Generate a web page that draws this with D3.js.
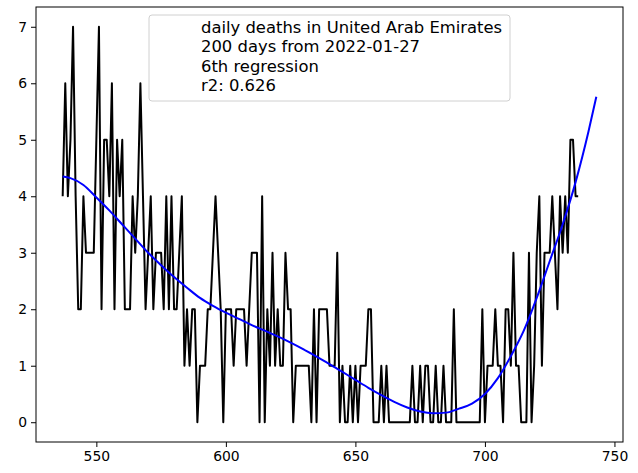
<!DOCTYPE html>
<html>
<head>
<meta charset="utf-8">
<script src="https://cdn.jsdelivr.net/npm/d3@7"></script>
<style>
  body { margin: 0; background: #fff; }
  text { font-family: "DejaVu Sans", sans-serif; }
</style>
</head>
<body>
<svg class="chart" width="638" height="473"></svg>
<script>
// daily deaths, one value per day starting at day 537
var startDay = 537;
var deaths = [
    4, 6, 4, 5, 7, 4, 2, 2, 4, 3,
    3, 3, 3, 5, 7, 2, 5, 5, 4, 6,
    2, 5, 4, 5, 2, 2, 2, 4, 3, 4,
    6, 4, 2, 3, 4, 2, 3, 3, 3, 2,
    4, 2, 4, 2, 2, 3, 4, 1, 2, 1,
    2, 2, 0, 1, 1, 1, 2, 2, 3, 4,
    3, 2, 0, 2, 2, 2, 1, 2, 2, 2,
    2, 1, 2, 3, 3, 3, 0, 4, 0, 2,
    1, 3, 1, 2, 1, 1, 3, 2, 2, 0,
    1, 1, 1, 1, 1, 1, 0, 2, 0, 2,
    2, 2, 2, 1, 1, 1, 3, 0, 1, 0,
    0, 1, 0, 1, 0, 1, 1, 1, 2, 2,
    0, 0, 0, 1, 0, 1, 0, 0, 0, 0,
    0, 0, 0, 0, 0, 1, 0, 0, 1, 0,
    1, 1, 0, 0, 1, 0, 0, 1, 0, 0,
    0, 2, 0, 0, 0, 0, 0, 0, 0, 0,
    0, 0, 2, 0, 1, 1, 1, 2, 1, 1,
    0, 2, 2, 1, 3, 1, 1, 0, 0, 0,
    3, 0, 1, 3, 4, 1, 3, 3, 3, 4,
    3, 2, 4, 3, 4, 3, 5, 5, 4, 4
];

// regression curve
var fitDays = [537, 540, 545, 550, 555, 560, 565, 570, 575, 580, 585, 590, 595, 600,
    605, 610, 615, 620, 625, 630, 635, 640, 645, 650, 655, 660, 665, 670, 675, 680,
    685, 690, 695, 700, 705, 710, 715, 720, 725, 730, 735, 740, 743];
var fitValues = [4.35, 4.32, 4.2, 3.98, 3.75, 3.5, 3.25, 3.0, 2.78, 2.57, 2.38, 2.2, 2.06, 1.94,
    1.83, 1.72, 1.62, 1.52, 1.41, 1.29, 1.16, 1.03, 0.89, 0.75, 0.61, 0.48, 0.36, 0.26, 0.19, 0.16,
    0.17, 0.24, 0.33, 0.5, 0.78, 1.17, 1.62, 2.2, 2.85, 3.5, 4.25, 5.15, 5.76];

var xTicks = [550, 600, 650, 700, 750];
var yTicks = [0, 1, 2, 3, 4, 5, 6, 7];
var legendLines = ["daily deaths in United Arab Emirates", "200 days from 2022-01-27", "6th regression", "r2: 0.626"];

renderChart();

function renderChart() {
    var svg = d3.select(".chart"),
        margin = { top: 7, right: 15, bottom: 31, left: 36 },
        width = +svg.attr("width") - margin.left - margin.right,
        height = +svg.attr("height") - margin.top - margin.bottom;

    var points = deaths.map(function (d, i) {
        return { day: startDay + i, value: d };
    });
    var fit = fitDays.map(function (d, i) {
        return { day: d, value: fitValues[i] };
    });

    // matplotlib style 5% padding
    var xMin = d3.min(fitDays.concat([startDay])),
        xMax = d3.max(fitDays.concat([startDay + deaths.length - 1])),
        xPad = (xMax - xMin) * 0.05;
    var yMax = d3.max(deaths), yPad = yMax * 0.05;

    var x = d3.scaleLinear().domain([xMin - xPad, xMax + xPad]).range([0, width]),
        y = d3.scaleLinear().domain([-yPad, yMax + yPad]).range([height, 0]);

    var g = svg.append("g")
        .attr("transform", "translate(" + margin.left + "," + margin.top + ")");

    var xAxis = g.append("g")
        .attr("transform", "translate(0," + height + ")")
        .call(d3.axisBottom(x).tickValues(xTicks).tickSize(5).tickPadding(4).tickFormat(d3.format("d")));
    var yAxis = g.append("g")
        .call(d3.axisLeft(y).tickValues(yTicks).tickSize(5).tickPadding(4).tickFormat(d3.format("d")));

    [xAxis, yAxis].forEach(function (a) {
        a.select(".domain").remove();
        a.selectAll("line").attr("stroke", "#000").attr("stroke-width", 1);
        a.selectAll("text").attr("fill", "#000").style("font-size", "13.9px");
    });

    var line = d3.line()
        .x(function (d) { return x(d.day); })
        .y(function (d) { return y(d.value); });

    g.append("path")
        .datum(points)
        .attr("fill", "none")
        .attr("stroke", "#000")
        .attr("stroke-width", 2)
        .attr("stroke-linejoin", "round")
        .attr("d", line);

    g.append("path")
        .datum(fit)
        .attr("fill", "none")
        .attr("stroke", "#0000ff")
        .attr("stroke-width", 2)
        .attr("d", line.curve(d3.curveMonotoneX));

    // frame
    g.append("rect")
        .attr("width", width)
        .attr("height", height)
        .attr("fill", "none")
        .attr("stroke", "#000")
        .attr("stroke-width", 1);

    // legend
    var lg = g.append("g").attr("transform", "translate(113,8)");
    lg.append("rect")
        .attr("width", 361)
        .attr("height", 86)
        .attr("rx", 3)
        .attr("fill", "#fff")
        .attr("fill-opacity", 0.8)
        .attr("stroke", "#d0d0d0")
        .attr("stroke-width", 1);
    lg.selectAll("text.leg")
        .data(legendLines)
        .enter().append("text")
        .attr("class", "leg")
        .attr("x", 52)
        .attr("y", function (d, i) { return 18 + i * 19.3; })
        .attr("fill", "#000")
        .style("font-size", "16.4px")
        .text(function (d) { return d; });
}
</script>
</body>
</html>
